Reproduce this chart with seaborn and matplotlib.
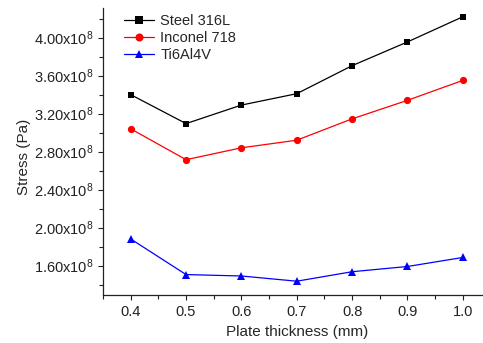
import matplotlib
matplotlib.use("Agg")
import matplotlib.pyplot as plt
from matplotlib.ticker import FixedLocator, MultipleLocator, FuncFormatter
import seaborn as sns
import pandas as pd

# Plate thickness (mm) and peak stress (Pa) for each alloy
thickness = [0.4, 0.5, 0.6, 0.7, 0.8, 0.9, 1.0]
steel_316l = [3.40e8, 3.095e8, 3.29e8, 3.41e8, 3.705e8, 3.955e8, 4.22e8]
inconel_718 = [3.04e8, 2.715e8, 2.84e8, 2.92e8, 3.145e8, 3.34e8, 3.55e8]
ti6al4v = [1.88e8, 1.505e8, 1.49e8, 1.435e8, 1.535e8, 1.59e8, 1.685e8]

series_names = ["Steel 316L", "Inconel 718", "Ti6Al4V"]
x_ticks = [0.4, 0.5, 0.6, 0.7, 0.8, 0.9, 1.0]
y_ticks = [1.6e8, 2.0e8, 2.4e8, 2.8e8, 3.2e8, 3.6e8, 4.0e8]

sns.set_style("ticks")
plt.rcParams["font.family"] = ["Liberation Sans", "DejaVu Sans"]
plt.rcParams["mathtext.fontset"] = "custom"
plt.rcParams["mathtext.rm"] = "Liberation Sans"
plt.rcParams["mathtext.it"] = "Liberation Sans:italic"
plt.rcParams["mathtext.bf"] = "Liberation Sans:bold"
plt.rcParams["mathtext.default"] = "regular"

df = pd.DataFrame({
    "thickness": thickness * 3,
    "stress": steel_316l + inconel_718 + ti6al4v,
    "alloy": [series_names[0]] * 7 + [series_names[1]] * 7 + [series_names[2]] * 7,
})

fig = plt.figure(figsize=(4.83, 3.43), dpi=100)
ax = fig.add_axes([0.2133, 0.14, 0.785, 0.836])

sns.lineplot(
    data=df, x="thickness", y="stress", hue="alloy", style="alloy",
    palette={series_names[0]: "black", series_names[1]: "red", series_names[2]: "blue"},
    markers={series_names[0]: "s", series_names[1]: "o", series_names[2]: "^"},
    dashes=False, linewidth=0.9, markersize=5, markeredgewidth=0,
    ax=ax,
)

# per-marker sizes so squares, circles and triangles look similar in weight
marker_sizes = {"s": 4.6, "o": 5.2, "^": 5.8}
for line in ax.get_lines():
    m = line.get_marker()
    if m in marker_sizes:
        line.set_markersize(marker_sizes[m])

ax.set_xlim(0.35, 1.035)
ax.set_ylim(1.29e8, 4.31e8)
ax.xaxis.set_major_locator(FixedLocator(x_ticks))
ax.xaxis.set_minor_locator(MultipleLocator(0.05))
ax.yaxis.set_major_locator(FixedLocator(y_ticks))
ax.yaxis.set_minor_locator(MultipleLocator(0.2e8))
ax.xaxis.set_major_formatter(FuncFormatter(lambda v, p: f"{v:.1f}"))
ax.yaxis.set_major_formatter(FuncFormatter(lambda v, p: f"{v / 1e8:.2f}x10$^{{8}}$"))

ax.tick_params(which="both", direction="out", width=0.8, colors="#222222", labelsize=10.5)
ax.tick_params(which="major", length=3.5)
ax.tick_params(which="minor", length=3)
for side in ("left", "bottom"):
    ax.spines[side].set_linewidth(0.9)
    ax.spines[side].set_color("#222222")
sns.despine(ax=ax)

ax.set_xlabel("Plate thickness (mm)", fontsize=11)
ax.set_ylabel("Stress (Pa)", fontsize=11)
ax.xaxis.set_label_coords(0.512, -0.103)
ax.yaxis.set_label_coords(-0.19, 0.48)

leg = ax.legend(
    loc="upper left", bbox_to_anchor=(0.02, 1.025), frameon=False,
    fontsize=10.5, handlelength=2.1, handletextpad=0.4, labelspacing=0.2,
)
for h in leg.legend_handles:
    m = h.get_marker()
    if m in marker_sizes:
        h.set_markersize(marker_sizes[m] + 0.6)

fig.savefig("out.png", dpi=100)
